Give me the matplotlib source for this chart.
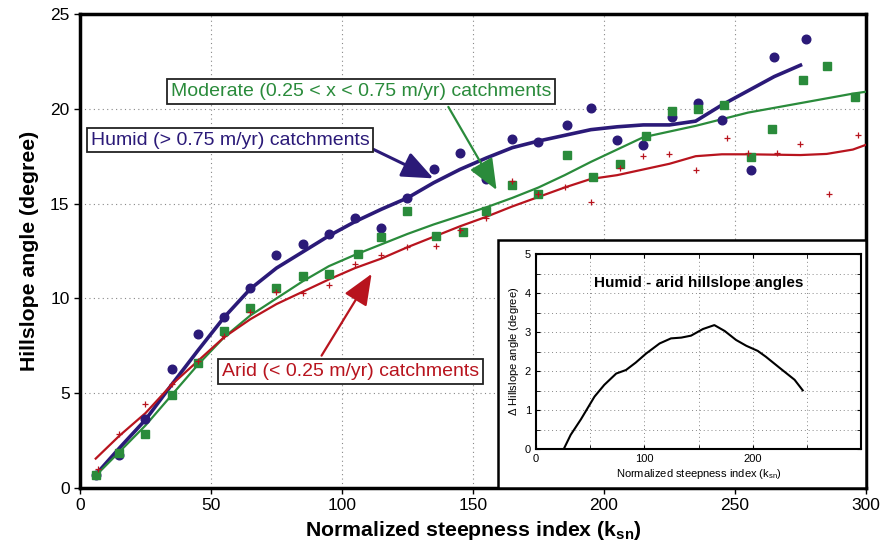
import matplotlib
matplotlib.use("Agg")
import matplotlib.pyplot as plt
from matplotlib.patches import Rectangle
from matplotlib.ticker import MultipleLocator, FixedLocator

plt.rcParams['font.family'] = ['Liberation Sans', 'DejaVu Sans']
plt.rcParams['mathtext.fontset'] = 'custom'
plt.rcParams['mathtext.rm'] = 'Liberation Sans'
plt.rcParams['mathtext.bf'] = 'Liberation Sans:bold'

# binned hillslope angles (scatter)
humid_x = [6, 15, 25, 35, 45, 55, 65, 75, 85, 95, 105, 115, 125, 135, 145, 155, 165, 175,
           186, 195, 205, 215, 226, 236, 245, 256, 265, 277]
humid_y = [0.69, 1.74, 3.64, 6.28, 8.14, 9.02, 10.56, 12.29, 12.85, 13.38, 14.22, 13.73, 15.28,
           16.81, 17.65, 16.3, 18.43, 18.27, 19.13, 20.04, 18.35, 18.07, 19.59, 20.32, 19.42,
           16.77, 22.73, 23.68]

moderate_x = [6, 15, 25, 35, 45, 55, 65, 75, 85, 95, 106, 115, 125, 136, 146, 155, 165, 175,
              186, 196, 206, 216, 226, 236, 246, 256, 264, 276, 285, 296]
moderate_y = [0.69, 1.85, 2.86, 4.9, 6.61, 8.28, 9.48, 10.56, 11.2, 11.27, 12.34, 13.22, 14.63,
              13.31, 13.48, 14.63, 16.0, 15.49, 17.58, 16.42, 17.11, 18.55, 19.87, 19.97, 20.18,
              17.44, 18.95, 21.5, 22.26, 20.61]

arid_x = [7, 15, 25, 35, 45, 55, 65, 75, 85, 95, 105, 115, 125, 136, 145, 155, 165, 175, 185,
          195, 206, 215, 225, 235, 247, 255, 266, 275, 286, 297]
arid_y = [1.0, 2.83, 4.43, 5.5, 6.7, 8.0, 9.3, 10.32, 10.27, 10.71, 11.83, 12.29, 12.71, 12.78,
          13.6, 14.26, 16.18, 15.5, 15.88, 15.07, 16.86, 17.51, 17.62, 16.77, 18.48, 17.65,
          17.65, 18.14, 15.49, 18.63]

# smoothed curves
fit_x = [6, 15, 25, 35, 45, 55, 65, 75, 85, 95, 105, 115, 125, 135, 145, 155, 165, 175, 185,
         195, 205, 215, 225, 235, 245, 255, 265, 275, 285, 295, 300]
humid_fit = [0.7, 2.1, 3.6, 5.45, 7.25, 9.0, 10.5, 11.6, 12.45, 13.3, 14.05, 14.7, 15.3, 16.1,
             16.8, 17.4, 17.95, 18.3, 18.6, 18.9, 19.05, 19.15, 19.15, 19.35, 20.2, 20.95,
             21.7, 22.3]
moderate_fit = [0.65, 1.9, 3.3, 4.9, 6.5, 7.95, 9.1, 10.0, 10.9, 11.7, 12.3, 12.85, 13.4, 13.9,
                14.35, 14.8, 15.3, 15.85, 16.5, 17.2, 17.85, 18.5, 18.8, 19.1, 19.45, 19.8,
                20.05, 20.3, 20.55, 20.8, 20.9]
arid_fit = [1.55, 2.75, 3.95, 5.45, 6.7, 7.95, 8.9, 9.7, 10.35, 11.0, 11.6, 12.1, 12.7, 13.25,
            13.8, 14.3, 14.85, 15.35, 15.85, 16.3, 16.5, 16.8, 17.1, 17.5, 17.6, 17.6, 17.58,
            17.56, 17.62, 17.85, 18.1]

# inset: humid - arid difference
diff_x = [25.5, 32, 41.5, 54, 63, 74, 83, 92, 101.5, 114, 124.5, 134, 143, 154, 164.5, 174,
          184.5, 194, 204.5, 212, 224.5, 238.5, 246]
diff_y = [0, 0.37, 0.77, 1.35, 1.65, 1.94, 2.03, 2.22, 2.45, 2.71, 2.84, 2.86, 2.91, 3.08,
          3.18, 3.03, 2.80, 2.65, 2.52, 2.37, 2.09, 1.78, 1.51]

navy = '#2b1a78'
green = '#2a8b3b'
red = '#b8141e'

fig = plt.figure(figsize=(8.84, 5.47), dpi=100)
ax = fig.add_axes([0.0905, 0.1079, 0.8891, 0.8665])

ax.plot(fit_x[:len(humid_fit)], humid_fit, color=navy, lw=2.6, zorder=3)
ax.plot(fit_x, moderate_fit, color=green, lw=1.6, zorder=3)
ax.plot(fit_x, arid_fit, color=red, lw=1.6, zorder=3)
ax.plot(humid_x, humid_y, 'o', color=navy, ms=6.2, zorder=4)
ax.plot(moderate_x, moderate_y, 's', color=green, ms=5.2, zorder=4)
ax.plot(arid_x, arid_y, '+', color=red, ms=4, mew=0.9, zorder=4)

ax.set_xlim(0, 300)
ax.set_ylim(0, 25)
ax.xaxis.set_major_locator(MultipleLocator(50))
ax.yaxis.set_major_locator(MultipleLocator(5))
ax.grid(True, ls=(0, (1, 3)), color='#888888', lw=0.8)
ax.tick_params(direction='out', length=4, width=1, labelsize=12.5, top=False, right=False)
for s in ax.spines.values():
    s.set_linewidth(2.5)
ax.set_xlabel(r'Normalized steepness index (k$_\mathbf{sn}$)', fontsize=15.3, fontweight='bold')
ax.set_ylabel('Hillslope angle (degree)', fontsize=15.3, fontweight='bold', labelpad=8)

box = dict(boxstyle='square,pad=0.2', fc='white', ec='#222222', lw=1.3)
ax.text(107.3, 20.9, 'Moderate (0.25 < x < 0.75 m/yr) catchments', color=green,
        fontsize=14, ha='center', va='center', bbox=box, zorder=6)
ax.text(57.3, 18.35, 'Humid (> 0.75 m/yr) catchments', color=navy,
        fontsize=14, ha='center', va='center', bbox=box, zorder=6)
ax.text(103.3, 6.15, 'Arid (< 0.25 m/yr) catchments', color=red,
        fontsize=14, ha='center', va='center', bbox=box, zorder=6)

head = '-|>,head_length=1.2,head_width=0.5'
ax.annotate('', xy=(134.9, 16.33), xytext=(112, 17.86), zorder=5,
            arrowprops=dict(arrowstyle=head, color=navy, lw=2.2, mutation_scale=16,
                            shrinkA=0, shrinkB=0))
ax.annotate('', xy=(159.0, 15.72), xytext=(140.6, 20.1), zorder=5,
            arrowprops=dict(arrowstyle=head, color=green, lw=1.6, mutation_scale=16,
                            shrinkA=0, shrinkB=0))
ax.annotate('', xy=(111.3, 11.29), xytext=(92.2, 6.98), zorder=5,
            arrowprops=dict(arrowstyle=head, color=red, lw=1.6, mutation_scale=16,
                            shrinkA=0, shrinkB=0))

# white panel behind the inset
ax.add_patch(Rectangle((0.532, 0.0), 0.468, 0.523, transform=ax.transAxes,
                       fc='white', ec='black', lw=1.8, zorder=7))

ins = fig.add_axes([0.6063, 0.1786, 0.3680, 0.357])
ins.plot(diff_x, diff_y, color='black', lw=1.5)
ins.set_xlim(0, 300)
ins.set_ylim(0, 5)
ins.xaxis.set_major_locator(FixedLocator([0, 100, 200]))
ins.xaxis.set_minor_locator(MultipleLocator(50))
ins.yaxis.set_major_locator(MultipleLocator(1))
ins.yaxis.set_minor_locator(MultipleLocator(0.5))
ins.grid(True, which='both', ls=(0, (1, 3)), color='#888888', lw=0.7)
ins.tick_params(which='both', direction='in', top=True, right=True, labelsize=8)
ins.tick_params(which='both', length=3)
for s in ins.spines.values():
    s.set_linewidth(1.5)
ins.set_xlabel(r'Normalized steepness index (k$_\mathrm{sn}$)', fontsize=8, labelpad=2)
ins.set_ylabel(r'$\Delta$ Hillslope angle (degree)', fontsize=8, labelpad=3)
ins.text(150, 4.27, 'Humid - arid hillslope angles', fontsize=11, fontweight='bold',
         ha='center', va='center')

fig.savefig('out.png', dpi=100)
